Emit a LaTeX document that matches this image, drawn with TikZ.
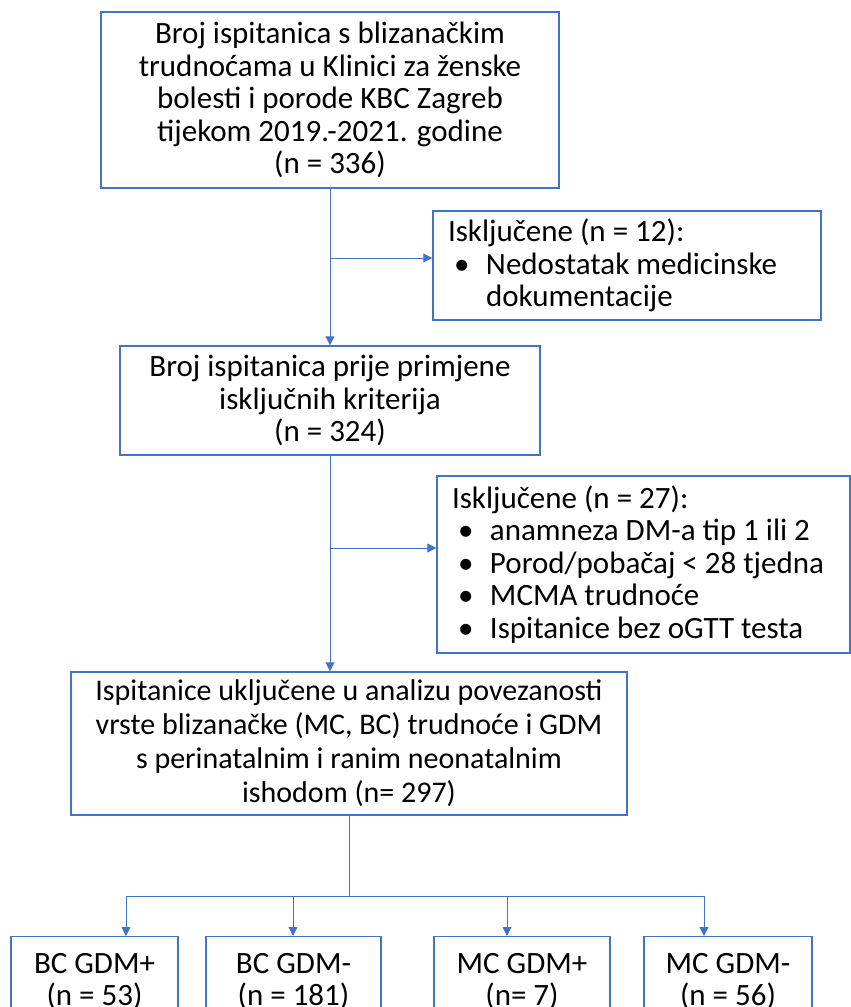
\documentclass[tikz,border=0pt]{standalone}
\usepackage{fontspec}
\setmainfont{Carlito}
\usetikzlibrary{arrows.meta}
\definecolor{boxblue}{RGB}{68,114,196}
\newcommand{\itembul}{\makebox[38pt][l]{\hspace{6pt}\textbullet}}

\begin{document}
\begin{tikzpicture}
        [x=1pt, y=-1pt,
         box/.style={draw=boxblue, line width=1.4pt, inner sep=0pt, align=center,
                     font=\fontsize{31}{32.5}\selectfont},
         exclbox/.style={box, align=flush left, inner xsep=15pt},
         conn/.style={draw=boxblue, line width=0.9pt, -{Triangle[length=9pt,width=9pt]}}]
        \useasboundingbox (0,0) rectangle (851,1007);
        \clip (0,0) rectangle (851,1007);
        \node [box, minimum width=458pt, minimum height=176pt] (total) at (330,100) {Broj ispitanica s blizanačkim\\
                                                                                      trudnoćama u Klinici za ženske\\
                                                                                      bolesti i porode KBC Zagreb\\
                                                                                      tijekom 2019.-2021. godine\\
                                                                                      (n = 336)};
        \node [exclbox, text width=358pt, minimum height=109pt] (excl1) at (627,265.5) {Isključene (n = 12):\\
                                                                                        \itembul Nedostatak medicinske\\
                                                                                        \hspace*{38pt}dokumentacije};
        \node [box, minimum width=420pt, minimum height=109pt] (before) at (330,400.5) {Broj ispitanica prije primjene\\
                                                                                        isključnih kriterija\\
                                                                                        (n = 324)};
        \node [exclbox, text width=383pt, minimum height=177pt] (excl2) at (643.5,564.5) {Isključene (n = 27):\\
                                                                                          \itembul anamneza DM-a tip 1 ili 2\\
                                                                                          \itembul Porod/pobačaj < 28 tjedna\\
                                                                                          \itembul MCMA trudnoće\\
                                                                                          \itembul Ispitanice bez oGTT testa};
        \node [box, minimum width=556pt, minimum height=143pt, font=\fontsize{30}{34}\selectfont] (incl) at (349,743.5) {Ispitanice uključene u analizu povezanosti\\
                                                                                      vrste blizanačke (MC, BC) trudnoće i GDM\\
                                                                                      s perinatalnim i ranim neonatalnim\\
                                                                                      ishodom (n= 297)};
        \node [box, anchor=north, minimum width=167pt, minimum height=90pt] (bcp) at (94.5,936) {BC GDM+\\ (n = 53)};
        \node [box, anchor=north, minimum width=175pt, minimum height=90pt] (bcm) at (293.5,936) {BC GDM-\\ (n = 181)};
        \node [box, anchor=north, minimum width=176pt, minimum height=90pt] (mcp) at (522,936) {MC GDM+\\ (n= 7)};
        \node [box, anchor=north, minimum width=168pt, minimum height=90pt] (mcm) at (728,936) {MC GDM-\\ (n = 56)};

        \coordinate (j1) at (330,258);
        \coordinate (j2) at (330,548);
        \coordinate (bus) at (349,896);
        \draw [conn] (total.south) -- (total.south |- before.north);
        \draw [conn] (j1) -- (j1 -| excl1.west);
        \draw [conn] (before.south) -- (before.south |- incl.north);
        \draw [conn] (j2) -- (j2 -| excl2.west);
        \draw [draw=boxblue, line width=0.9pt] (incl.south) -- (bus);
        \foreach \x/\n in {126/bcp, 293/bcm, 507/mcp, 704/mcm} {
            \coordinate (d\n) at (\x,896);
            \draw [conn] (d\n) -- (d\n |- \n.north);
        }
        \draw [draw=boxblue, line width=0.9pt] (dbcp) -- (dmcm);
    \end{tikzpicture}
\end{document}
